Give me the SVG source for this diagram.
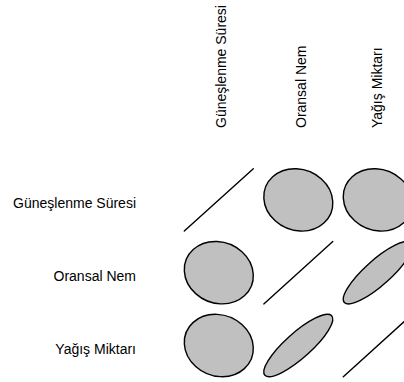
<svg xmlns="http://www.w3.org/2000/svg" width="404" height="382" viewBox="0 0 404 382">
<style>
text{font-family:"Liberation Sans",Arial,sans-serif;font-size:14px;fill:#000}
.rl{text-anchor:end}
.e{fill:#c0c0c0;stroke:#000;stroke-width:1.4;vector-effect:non-scaling-stroke}
.d{stroke:#000;stroke-width:1.4;fill:none;stroke-linecap:round}
</style>
<rect width="404" height="382" fill="#fff"/>
<g id="col-labels">
<text transform="translate(226,128) rotate(-90)">Güneşlenme Süresi</text>
<text transform="translate(306,128) rotate(-90)">Oransal Nem</text>
<text transform="translate(381.5,128) rotate(-90)">Yağış Miktarı</text>
</g>
<g id="row-labels">
<text class="rl" x="136" y="208">Güneşlenme Süresi</text>
<text class="rl" x="136" y="281">Oransal Nem</text>
<text class="rl" x="136" y="354">Yağış Miktarı</text>
</g>
<g id="cell-1-1"><line class="d" x1="184.3" y1="231.1" x2="253.3" y2="168.7"/></g>
<g id="cell-1-2"><circle class="e" r="1" transform="matrix(23.14,-20.93,-25.59,-23.14,298.3,199.9)"/></g>
<g id="cell-1-3"><circle class="e" r="1" transform="matrix(23.14,-20.93,-25.59,-23.14,377.8,199.9)"/></g>
<g id="cell-2-1"><circle class="e" r="1" transform="matrix(23.14,-20.93,-25.59,-23.14,218.8,272.7)"/></g>
<g id="cell-2-2"><line class="d" x1="263.8" y1="303.9" x2="332.8" y2="241.5"/></g>
<g id="cell-2-3"><circle class="e" r="1" transform="matrix(33.18,-30.01,-9.45,-8.55,377.8,272.7)"/></g>
<g id="cell-3-1"><circle class="e" r="1" transform="matrix(23.14,-20.93,-25.59,-23.14,218.8,345.5)"/></g>
<g id="cell-3-2"><circle class="e" r="1" transform="matrix(33.18,-30.01,-9.45,-8.55,298.3,345.5)"/></g>
<g id="cell-3-3"><line class="d" x1="343.3" y1="376.7" x2="412.3" y2="314.3"/></g>
</svg>
